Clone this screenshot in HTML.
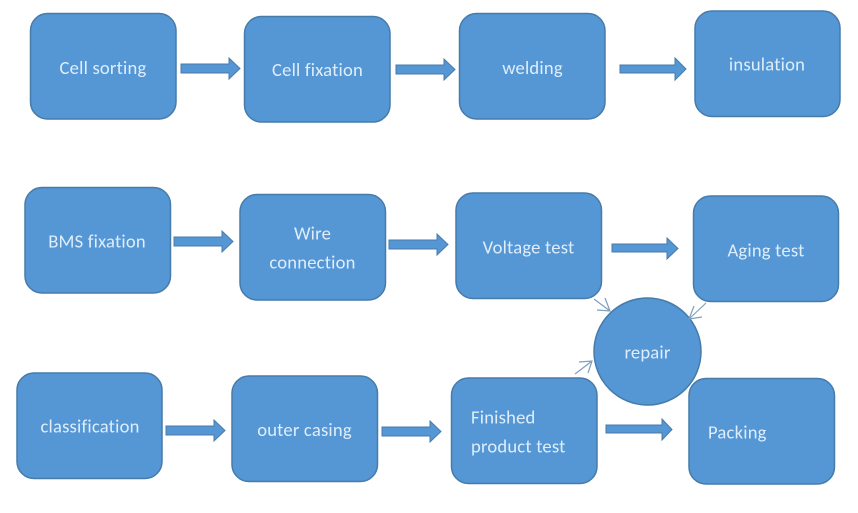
<!DOCTYPE html>
<html>
<head>
<meta charset="utf-8">
<style>
html,body{margin:0;padding:0;background:#fff}
svg{display:block;filter:blur(.35px)}
.b{fill:#5596d5;stroke:#477ba9;stroke-width:1.5}
.a{fill:#5596d5;stroke:#477ba9;stroke-width:1}
.t{fill:#dfeefa;font-family:"Carlito","Liberation Sans",sans-serif;font-size:18.600px;letter-spacing:.2px}
.m{text-anchor:middle}
.c{fill:none;stroke:#7f9fbb;stroke-width:1.2}
</style>
</head>
<body>
<svg width="858" height="513" viewBox="0 0 858 513" xmlns="http://www.w3.org/2000/svg">
<rect class="b" x="30.500" y="13.500" width="145.500" height="105.500" rx="17"/>
<rect class="b" x="244.500" y="16.500" width="145.500" height="105.500" rx="17"/>
<rect class="b" x="459.500" y="13.500" width="145.500" height="105.500" rx="17"/>
<rect class="b" x="695" y="11" width="145" height="105.500" rx="17"/>
<rect class="b" x="25" y="187.500" width="145.500" height="105.500" rx="17"/>
<rect class="b" x="240" y="194.500" width="145.500" height="105.500" rx="17"/>
<rect class="b" x="456" y="193" width="145.500" height="105.500" rx="17"/>
<rect class="b" x="693.500" y="196" width="145" height="105.500" rx="17"/>
<rect class="b" x="17" y="373" width="145" height="105.500" rx="17"/>
<rect class="b" x="232" y="376" width="145.500" height="105.500" rx="17"/>
<rect class="b" x="451.500" y="378" width="145.500" height="105.500" rx="17"/>
<rect class="b" x="689" y="378.500" width="145.500" height="105.500" rx="17"/>
<circle class="b" cx="647.500" cy="351.500" r="53.500"/>

<path class="a" d="M181 64H229V58L240 68.500L229 79V73H181Z"/>
<path class="a" d="M396 65H444V59L455 69.500L444 80V74H396Z"/>
<path class="a" d="M620 65H675V58L686 69L675 80V73H620Z"/>
<path class="a" d="M174 237H222V231L233 241.500L222 252V246H174Z"/>
<path class="a" d="M389 240H437V234L448 244.500L437 255V249H389Z"/>
<path class="a" d="M612 244H667V238L678 248.500L667 259V252H612Z"/>
<path class="a" d="M166 426H214V420L225 430.500L214 441V435H166Z"/>
<path class="a" d="M382 427H430V421L441 431.500L430 442V436H382Z"/>
<path class="a" d="M606 425H662V419L672 429.500L662 440V433H606Z"/>

<path class="c" d="M594 299L610 311M597 310L610 311L605 298"/>
<path class="c" d="M706 303L689 319M702 317L689 319L694 306"/>
<path class="c" d="M575 374L592 361M579 362L592 361L588 373"/>

<text class="t m" x="103" y="74">Cell sorting</text>
<text class="t m" x="317.500" y="76">Cell fixation</text>
<text class="t m" x="532.500" y="74">welding</text>
<text class="t m" x="767" y="70.500">insulation</text>
<text class="t m" x="97" y="247.500">BMS fixation</text>
<text class="t m" x="312.500" y="239.500">Wire</text>
<text class="t m" x="312.500" y="268.500">connection</text>
<text class="t m" x="528.500" y="253.500">Voltage test</text>
<text class="t m" x="766" y="256.500">Aging test</text>
<text class="t m" x="647.500" y="358.500">repair</text>
<text class="t m" x="90" y="432.500">classification</text>
<text class="t m" x="304.500" y="436">outer casing</text>
<text class="t" x="471" y="423.500">Finished</text>
<text class="t" x="471" y="452.500">product test</text>
<text class="t" x="708" y="438.500">Packing</text>
</svg>
</body>
</html>
